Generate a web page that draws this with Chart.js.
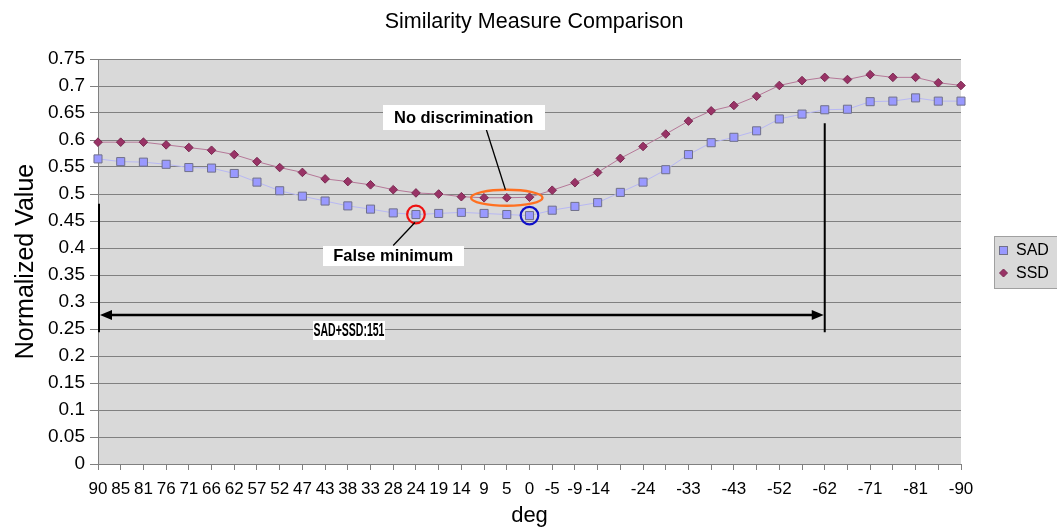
<!DOCTYPE html>
<html><head><meta charset="utf-8">
<style>html,body{margin:0;padding:0;background:#fff;}#wrap{width:1057px;height:529px;}</style>
<script src="https://cdn.jsdelivr.net/npm/chart.js@4"></script>
</head><body><div id="wrap"><canvas id="c" width="1057" height="529"></canvas></div>
<script>
// ---- data ----
const degrees = ['90','85','81','76','71','66','62','57','52','47','43','38','33','28','24','19','14','9','5','0',
  '-5','-9','-14','-19','-24','-28','-33','-38','-43','-47','-52','-57','-62','-66','-71','-76','-81','-85','-90'];
const shownLabels = ['90','85','81','76','71','66','62','57','52','47','43','38','33','28','24','19','14','9','5','0',
  '-5','-9','-14','-24','-33','-43','-52','-62','-71','-81','-90'];
const sad = [0.565,0.560,0.559,0.555,0.549,0.548,0.538,0.522,0.506,0.496,0.487,0.478,0.472,0.465,0.462,0.464,0.466,0.464,0.462,0.460,
  0.470,0.477,0.484,0.503,0.522,0.545,0.573,0.595,0.605,0.617,0.639,0.648,0.656,0.657,0.671,0.672,0.678,0.672,0.672];
const ssd = [0.596,0.596,0.596,0.591,0.586,0.581,0.573,0.560,0.549,0.540,0.528,0.523,0.517,0.508,0.502,0.500,0.495,0.493,0.493,0.494,
  0.507,0.521,0.540,0.566,0.588,0.611,0.635,0.654,0.664,0.681,0.701,0.710,0.716,0.712,0.721,0.716,0.716,0.706,0.701];
const yMin = 0, yMax = 0.75, yStep = 0.05;

// ---- annotations (data units: category index, value) ----
const falseMinIndex = 14, trueMinIndex = 19, noDiscFrom = 17, noDiscTo = 19;
const spanFrom = 0, spanTo = 32, spanArrowValue = 0.276, spanLineTop = [0.482, 0.631], spanLineBottom = 0.244;
const notes = {
  noDisc:   { text: 'No discrimination', i: 16.1,  v: 0.642 },
  falseMin: { text: 'False minimum',     i: 13.0,  v: 0.386 },
  span:     { text: 'SAD+SSD:151',       i: 11.05, v: 0.248 }
};

const FONT = '"Liberation Sans", Arial, sans-serif';

const bgPlugin = {
  id: 'bg',
  beforeDraw(chart) {
    const {ctx, chartArea: a} = chart;
    ctx.save();
    ctx.fillStyle = '#d9d9d9';
    ctx.fillRect(a.left, a.top, a.right - a.left, a.bottom - a.top);
    ctx.restore();
  }
};

function labelBox(ctx, text, cx, cy, w, h, font, fitW) {
  ctx.fillStyle = '#ffffff';
  ctx.fillRect(Math.round(cx - w / 2), Math.round(cy - h / 2), w, h);
  ctx.fillStyle = '#000';
  ctx.font = font;
  ctx.textAlign = 'center';
  ctx.textBaseline = 'middle';
  if (fitW) {
    const m = ctx.measureText(text).width;
    const s = Math.min(1, fitW / m);
    ctx.save();
    ctx.translate(cx, cy + 1);
    ctx.scale(s, 1);
    ctx.fillText(text, 0, 0);
    ctx.restore();
  } else {
    ctx.fillText(text, cx, cy + 1);
  }
}

const notesPlugin = {
  id: 'notes',
  afterDatasetsDraw(chart) {
    const {ctx} = chart;
    const xs = chart.scales.x, ys = chart.scales.y;
    const px = i => xs.getPixelForValue(i);
    const py = v => ys.getPixelForValue(v);
    ctx.save();

    // orange ellipse around SSD plateau
    const ex = px((noDiscFrom + noDiscTo) / 2), ey = py(ssd[(noDiscFrom + noDiscTo) / 2]);
    const erx = (px(noDiscTo) - px(noDiscFrom)) / 2 + 13, ery = 8;
    ctx.strokeStyle = '#ff7020'; ctx.lineWidth = 2.4;
    ctx.beginPath(); ctx.ellipse(ex, ey, erx, ery, 0, 0, Math.PI * 2); ctx.stroke();

    // red & blue circles
    const rcx = px(falseMinIndex), rcy = py(sad[falseMinIndex]);
    ctx.strokeStyle = '#ee1111'; ctx.lineWidth = 2.2;
    ctx.beginPath(); ctx.arc(rcx, rcy, 8.8, 0, Math.PI * 2); ctx.stroke();
    const bcx = px(trueMinIndex), bcy = py(sad[trueMinIndex]);
    ctx.strokeStyle = '#1010c8';
    ctx.beginPath(); ctx.arc(bcx, bcy, 8.8, 0, Math.PI * 2); ctx.stroke();

    // No discrimination label + pointer
    const nd = notes.noDisc, ndx = px(nd.i), ndy = py(nd.v);
    ctx.strokeStyle = '#000'; ctx.lineWidth = 1.3;
    ctx.beginPath(); ctx.moveTo(px(17.08), ndy + 11); ctx.lineTo(px(17.94), ey - ery); ctx.stroke();
    labelBox(ctx, nd.text, ndx, ndy, 162, 25, 'bold 16.5px ' + FONT);

    // False minimum label + pointer
    const fm = notes.falseMin, fmx = px(fm.i), fmy = py(fm.v);
    ctx.strokeStyle = '#000'; ctx.lineWidth = 1.3;
    ctx.beginPath(); ctx.moveTo(fmx, fmy - 10); ctx.lineTo(rcx - 1, rcy + 8); ctx.stroke();
    labelBox(ctx, fm.text, fmx, fmy, 141, 20, 'bold 16.5px ' + FONT);

    // span vertical lines
    ctx.strokeStyle = '#000'; ctx.lineWidth = 2;
    ctx.beginPath();
    ctx.moveTo(px(spanFrom) + 1, py(spanLineTop[0])); ctx.lineTo(px(spanFrom) + 1, py(spanLineBottom));
    ctx.moveTo(px(spanTo), py(spanLineTop[1])); ctx.lineTo(px(spanTo), py(spanLineBottom));
    ctx.stroke();
    // double arrow
    const ay = py(spanArrowValue), ax1 = px(spanFrom) + 2, ax2 = px(spanTo) - 1;
    ctx.lineWidth = 2.4;
    ctx.beginPath(); ctx.moveTo(ax1 + 10, ay); ctx.lineTo(ax2 - 10, ay); ctx.stroke();
    ctx.fillStyle = '#000';
    ctx.beginPath(); ctx.moveTo(ax1, ay); ctx.lineTo(ax1 + 12, ay - 5); ctx.lineTo(ax1 + 12, ay + 5); ctx.closePath(); ctx.fill();
    ctx.beginPath(); ctx.moveTo(ax2, ay); ctx.lineTo(ax2 - 12, ay - 5); ctx.lineTo(ax2 - 12, ay + 5); ctx.closePath(); ctx.fill();
    const sp = notes.span;
    labelBox(ctx, sp.text, px(sp.i), py(sp.v), 72, 19, 'bold 18px "Liberation Sans Narrow", ' + FONT, 71);

    ctx.restore();
  },
  afterDraw(chart) {
    // legend
    const {ctx} = chart;
    ctx.save();
    ctx.fillStyle = '#d9d9d9';
    ctx.fillRect(994.5, 236.5, 80, 52);
    ctx.strokeStyle = '#a0a0a0'; ctx.lineWidth = 1;
    ctx.strokeRect(994.5, 236.5, 80, 52);
    const ds = chart.data.datasets;
    ctx.fillStyle = ds[0].pointBackgroundColor; ctx.strokeStyle = ds[0].pointBorderColor;
    ctx.fillRect(999.5, 246.5, 8, 8); ctx.strokeRect(999.5, 246.5, 8, 8);
    ctx.fillStyle = ds[1].pointBackgroundColor; ctx.strokeStyle = ds[1].pointBorderColor;
    ctx.beginPath(); ctx.moveTo(1003.5, 269); ctx.lineTo(1007.5, 273); ctx.lineTo(1003.5, 277); ctx.lineTo(999.5, 273); ctx.closePath();
    ctx.fill(); ctx.stroke();
    ctx.fillStyle = '#000'; ctx.font = '16px ' + FONT; ctx.textAlign = 'left'; ctx.textBaseline = 'middle';
    ctx.fillText(ds[0].label, 1016, 251);
    ctx.fillText(ds[1].label, 1016, 274);
    ctx.restore();
  }
};

new Chart(document.getElementById('c'), {
  type: 'line',
  data: {
    labels: degrees,
    datasets: [
      { label: 'SAD', data: sad, borderColor: '#b8b8f4', borderWidth: 1, tension: 0,
        pointStyle: 'rect', pointRadius: 5.7, pointBackgroundColor: '#9999ff', pointBorderColor: '#70708a', pointBorderWidth: 1, clip: false },
      { label: 'SSD', data: ssd, borderColor: '#b57898', borderWidth: 1, tension: 0,
        pointStyle: 'rectRot', pointRadius: 4.3, pointBackgroundColor: '#993366', pointBorderColor: '#7a2a52', pointBorderWidth: 1, clip: false }
    ]
  },
  options: {
    responsive: false, animation: false, devicePixelRatio: 1,
    layout: { padding: { left: 11, right: 0, top: 0, bottom: 0 } },
    plugins: {
      legend: { display: false }, tooltip: { enabled: false },
      title: { display: true, text: 'Similarity Measure Comparison', color: '#000',
        font: { family: FONT, size: 21.5, weight: 'normal', lineHeight: 1.2 }, padding: { top: 9, bottom: 24.2 } }
    },
    scales: {
      x: {
        type: 'category', offset: false,
        grid: { display: true, drawOnChartArea: false, drawTicks: true, tickLength: 6, color: '#808080' },
        border: { display: true, color: '#808080' },
        ticks: { autoSkip: false, maxRotation: 0, minRotation: 0, padding: 9, color: '#000',
          font: { family: FONT, size: 17 },
          callback(v, i) { const l = degrees[i]; return shownLabels.includes(l) ? l : ''; } },
        title: { display: true, text: 'deg', color: '#000', font: { family: FONT, size: 22 }, padding: { top: 0, bottom: 0 } },
        afterFit(s) { s.height = 65; }
      },
      y: {
        min: yMin, max: yMax,
        ticks: { stepSize: yStep, padding: 5, color: '#000', font: { family: FONT, size: 19 },
          callback(v) { return String(+Number(v).toFixed(2)); } },
        grid: { color: '#808080', tickLength: 8 },
        border: { display: true, color: '#808080' },
        title: { display: true, text: 'Normalized Value', color: '#000', font: { family: FONT, size: 25 }, padding: { top: 0, bottom: 0 } },
        afterFit(s) { s.width = 87; }
      },
      yr: {
        position: 'right', display: true,
        grid: { display: false, drawTicks: false }, border: { display: false },
        ticks: { display: false },
        afterFit(s) { s.width = 96; }
      }
    }
  },
  plugins: [bgPlugin, notesPlugin]
});
</script></body></html>
